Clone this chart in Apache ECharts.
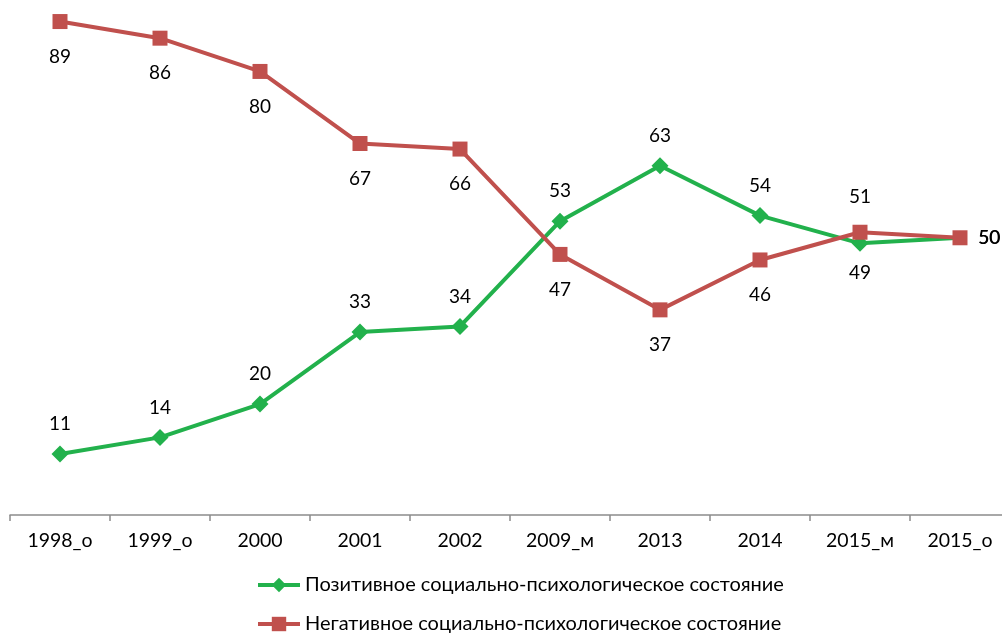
<!DOCTYPE html>
<html><head><meta charset="utf-8">
<script src="https://cdn.jsdelivr.net/npm/echarts@6/dist/echarts.min.js"></script>
<style>html,body{margin:0;padding:0;background:#fff}#c{width:1002px;height:633px}</style>
</head><body><div id="c"></div>
<script>
const categories = ['1998_о','1999_о','2000','2001','2002','2009_м','2013','2014','2015_м','2015_о'];
const positiveName = 'Позитивное социально-психологическое состояние';
const negativeName = 'Негативное социально-психологическое состояние';
const positiveValues = [11,14,20,33,34,53,63,54,49,50];
const negativeValues = [89,86,80,67,66,47,37,46,51,50];
const positiveLabelSide = ['top','top','top','top','top','top','top','top','bottom','right'];
const negativeLabelSide = ['bottom','bottom','bottom','bottom','bottom','bottom','bottom','bottom','top','right'];

const FONT = 'Lato';
const GREEN = '#22b14c', RED = '#c0504d';
const chart = echarts.init(document.getElementById('c'), null, {renderer:'canvas'});
function mk(values, sides, dist, lastSize){
  return values.map((v,i)=>{
    const item = {value:v, label:{position:sides[i], distance: sides[i]==='right'?11:dist}};
    if (i === values.length-1 && lastSize) item.symbolSize = lastSize;
    return item;
  });
}
const legendText = {color:'#000', fontFamily:FONT, fontSize:20};
const legendBase = {left:251, itemWidth:42, itemHeight:18, itemGap:0, textStyle:legendText, lineStyle:{width:4}};
chart.setOption({
  animation:false,
  grid:{left:10, top:16, width:1000, height:499, containLabel:false, outerBoundsMode:'none'},
  xAxis:{type:'category', data:categories, boundaryGap:true,
    axisLine:{lineStyle:{color:'#8c8c8c', width:1.5}},
    axisTick:{show:true, length:6, lineStyle:{color:'#8c8c8c', width:1.5}},
    axisLabel:{color:'#000', fontFamily:FONT, fontSize:19.5, margin:16}},
  yAxis:{type:'value', min:0, max:90, show:false, splitLine:{show:false}},
  legend:[
    Object.assign({top:570, data:[positiveName]}, legendBase),
    Object.assign({top:609, data:[negativeName]}, legendBase)
  ],
  series:[
    {name:positiveName, type:'line', data:mk(positiveValues,positiveLabelSide,12,14),
     symbol:'diamond', symbolSize:17, lineStyle:{color:GREEN, width:4},
     itemStyle:{color:GREEN},
     label:{show:true, color:'#000', fontFamily:FONT, fontSize:19}},
    {name:negativeName, type:'line', data:mk(negativeValues,negativeLabelSide,18),
     symbol:'rect', symbolSize:15, lineStyle:{color:RED, width:4},
     itemStyle:{color:RED},
     label:{show:true, color:'#000', fontFamily:FONT, fontSize:19}}
  ]
});
</script></body></html>
